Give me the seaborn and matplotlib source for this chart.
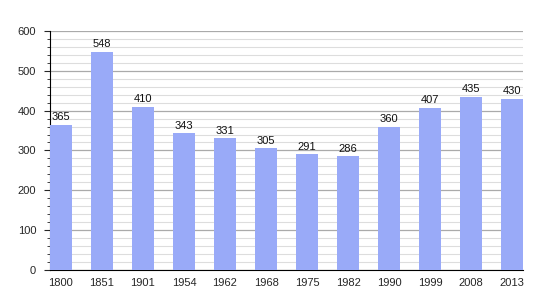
import matplotlib
matplotlib.use("Agg")
import matplotlib.pyplot as plt
import seaborn as sns
import pandas as pd
from matplotlib.ticker import MultipleLocator

years = ["1800", "1851", "1901", "1954", "1962", "1968", "1975", "1982", "1990", "1999", "2008", "2013"]
population = [365, 548, 410, 343, 331, 305, 291, 286, 360, 407, 435, 430]

df = pd.DataFrame({"year": years, "pop": population})

sns.set_style("white")
plt.rcParams['font.family'] = ['Liberation Sans', 'DejaVu Sans']

fig = plt.figure(figsize=(5.5, 3), dpi=100)
ax = fig.add_axes([0.091, 0.1, 0.86, 0.797])

w = 0.53
sns.barplot(data=df, x="year", y="pop", color="#99aaf8", saturation=1, width=w,
            linewidth=0, edgecolor="none", ax=ax, zorder=3)

for i, v in enumerate(population):
    ax.text(i, v + 6, str(v), ha="center", va="bottom", fontsize=8, color="#111111", zorder=4)

ax.set_ylim(0, 600)
ax.set_xlim(-w / 2, len(years) - 1 + w / 2)
ax.yaxis.set_major_locator(MultipleLocator(100))
ax.yaxis.set_minor_locator(MultipleLocator(20))
ax.grid(axis="y", which="major", color="#aaaaaa", linewidth=0.9, zorder=0)
ax.grid(axis="y", which="minor", color="#dddddd", linewidth=0.8, zorder=0)
ax.set_axisbelow(True)
ax.set_xlabel("")
ax.set_ylabel("")
for s in ["top", "right"]:
    ax.spines[s].set_visible(False)
ax.spines["left"].set_color("black")
ax.spines["bottom"].set_color("black")
ax.tick_params(axis="y", which="major", left=True, length=4, width=0.8, labelsize=8, pad=6)
ax.tick_params(axis="y", which="minor", left=True, length=2, width=0.6)
ax.tick_params(axis="x", bottom=False, labelsize=8, pad=2)

fig.savefig("out.png", dpi=100)
